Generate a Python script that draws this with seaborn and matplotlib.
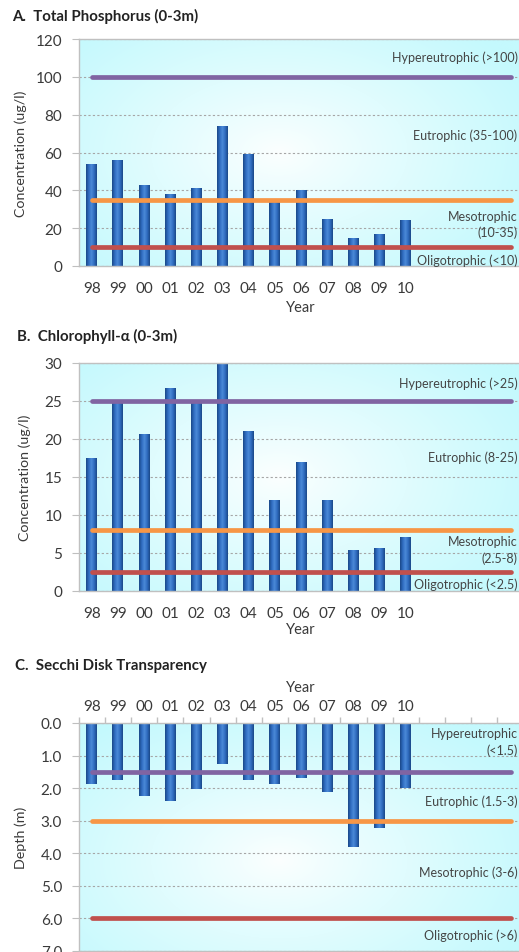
import numpy as np
import pandas as pd
import matplotlib
matplotlib.use("Agg")
import matplotlib.pyplot as plt
import seaborn as sns
from matplotlib.colors import LinearSegmentedColormap

# ---------------- data ----------------
years = ['98', '99', '00', '01', '02', '03', '04', '05', '06', '07', '08', '09', '10']
tp_values = [54, 56, 43, 38, 41, 74, 59, 34, 40, 25, 15, 17, 24.5]
chl_values = [17.5, 24.7, 20.6, 26.7, 24.7, 30.0, 21.0, 12.0, 17.0, 12.0, 5.4, 5.7, 7.1]
secchi_values = [1.86, 1.75, 2.23, 2.40, 2.02, 1.27, 1.75, 1.86, 1.69, 2.13, 3.81, 3.22, 1.99]

tp_thresholds = [100, 35, 10]
chl_thresholds = [25, 8, 2.5]
secchi_thresholds = [1.5, 3.0, 6.0]
threshold_colors = ['#8064a2', '#f79646', '#c0504d']

tp_labels = ['Hypereutrophic (>100)', 'Eutrophic (35-100)', 'Mesotrophic', '(10-35)', 'Oligotrophic (<10)']
chl_labels = ['Hypereutrophic (>25)', 'Eutrophic (8-25)', 'Mesotrophic', '(2.5-8)', 'Oligotrophic (<2.5)']
secchi_labels = ['Hypereutrophic', '(<1.5)', 'Eutrophic (1.5-3)', 'Mesotrophic (3-6)', 'Oligotrophic (>6)']

n_slots = 17  # 13 years + 4 empty category slots on the axis

# ---------------- style ----------------
sns.set_style("white")
plt.rcParams['font.family'] = ['Lato', 'DejaVu Sans']

W, H = 519, 953
fig = plt.figure(figsize=(W / 100, H / 100), dpi=100)

def fig_axes(top_px, bottom_px, left_px=78.7, right_px=523.6):
    return fig.add_axes([left_px / W, 1 - bottom_px / H,
                         (right_px - left_px) / W, (bottom_px - top_px) / H])

axA = fig_axes(40, 267)
axB = fig_axes(363.7, 592)
axC = fig_axes(724, 952)

# background radial gradient
yy, xx = np.mgrid[0:1:200j, 0:1:200j]
bar_cmap = LinearSegmentedColormap.from_list(
    'bar', ['#1a4888', '#2f6cc0', '#4b8ad8', '#2f6cc0', '#1a4888'])
edge = np.array([196, 249, 253]) / 255.0
center_col = np.array([252, 255, 255]) / 255.0

def background(ax, cx, cy):
    r = np.sqrt(((xx - cx) * 1.2) ** 2 + (yy - cy) ** 2)
    t = np.clip(r / 0.75, 0, 1) ** 0.9
    img = center_col[None, None, :] * (1 - t[..., None]) + edge[None, None, :] * t[..., None]
    ax.imshow(img, extent=[0, 1, 0, 1], transform=ax.transAxes, aspect='auto',
              zorder=0, origin='lower', interpolation='bilinear')

TXT = '#3a3a3a'
LABEL_RIGHT_PX = 517.5

def panel(ax, values, ylim, yticks, yfmt, thresholds, labels, label_y,
          ylabel, title, title_xy, ylabel_x, invert=False):
    background(ax, 0.45, 0.5 if not invert else 0.4)
    df = pd.DataFrame({'Year': years, 'Value': values})
    sns.barplot(data=df, x='Year', y='Value', order=years, ax=ax, color='#2f6cc0',
                width=0.42, zorder=2, edgecolor='none', saturation=1)
    grad = np.linspace(0, 1, 50)[None, :]
    for p in list(ax.patches):
        x0, y0 = p.get_x(), p.get_y()
        x1, y1 = x0 + p.get_width(), y0 + p.get_height()
        im = ax.imshow(grad, extent=[x0, x1, min(y0, y1), max(y0, y1)], cmap=bar_cmap,
                       aspect='auto', zorder=2.1, interpolation='bilinear')
        im.set_clip_path(p)
    for v, c in zip(thresholds, threshold_colors):
        ax.plot([0, n_slots - 1], [v, v], color=c, lw=3.4, solid_capstyle='round', zorder=3)

    ax.set_xlim(-0.5, n_slots - 0.5)
    if invert:
        ax.set_ylim(ylim[1], ylim[0])
    else:
        ax.set_ylim(*ylim)

    # right-aligned zone labels ending just inside the figure's right edge
    tr = matplotlib.transforms.blended_transform_factory(fig.transFigure, ax.transData)
    for txt, yv in zip(labels, label_y):
        ax.text(LABEL_RIGHT_PX / W, yv, txt, ha='right', va='center', fontsize=9,
                color='#454545', zorder=4, transform=tr)

    ax.set_yticks(yticks)
    ax.set_yticklabels([yfmt.format(t) for t in yticks])
    ax.set_xticks(range(len(years)))
    ax.set_xticklabels(years)
    ax.set_xticks(np.arange(-0.5, n_slots, 1), minor=True)
    ax.tick_params(axis='x', which='major', length=0, labelsize=11, colors=TXT,
                   pad=7 if invert else 11)
    ax.tick_params(axis='x', which='minor', length=4, color='#bfbfbf', width=1)
    ax.tick_params(axis='y', length=5, color='#bfbfbf', labelsize=11, labelcolor=TXT,
                   pad=7, left=True)
    ax.set_axisbelow(True)
    ax.yaxis.grid(True, color='#a6a6a6', linestyle=(0, (2, 2)), linewidth=0.8)
    ax.xaxis.grid(False)
    for s in ['left', 'top', 'bottom']:
        ax.spines[s].set_visible(True)
        ax.spines[s].set_color('#c0c0c0')
        ax.spines[s].set_linewidth(1)
    ax.spines['right'].set_visible(False)

    ax.set_ylabel(ylabel, fontsize=10.3, color=TXT, va='center')
    ax.yaxis.set_label_coords(ylabel_x, 0.5)
    if invert:
        ax.xaxis.tick_top()
        ax.xaxis.set_label_position('top')
        ax.set_xlabel('Year', fontsize=10.5, color=TXT, va='center')
        ax.xaxis.set_label_coords(0.5, 1 + 36 / 228)
    else:
        ax.set_xlabel('Year', fontsize=10.5, color=TXT, va='center')
    fig.text(title_xy[0] / W, 1 - title_xy[1] / H, title, fontsize=10.8, fontweight='bold',
             color='#222222', ha='left', va='center')

panel(axA, tp_values, (0, 120), [0, 20, 40, 60, 80, 100, 120], '{:.0f}',
      tp_thresholds, tp_labels, [110.4, 69.2, 26.6, 18.0, 3.2],
      'Concentration (ug/l)', 'A.  Total Phosphorus (0-3m)', (12, 16), -0.13)
axA.xaxis.set_label_coords(0.5, -41 / 227)

panel(axB, chl_values, (0, 30), [0, 5, 10, 15, 20, 25, 30], '{:.0f}',
      chl_thresholds, chl_labels, [27.4, 17.6, 6.6, 4.4, 1.0],
      'Concentration (ug/l)', 'B.  Chlorophyll-\u03b1 (0-3m)', (16.7, 336.7), -0.121)
axB.xaxis.set_label_coords(0.5, -38 / 228.3)

panel(axC, secchi_values, (0, 7), [0, 1, 2, 3, 4, 5, 6, 7], '{:.1f}',
      secchi_thresholds, secchi_labels, [0.32, 0.82, 2.38, 4.56, 6.5],
      'Depth (m)', 'C.  Secchi Disk Transparency', (15, 666), -0.13, invert=True)

fig.savefig('out.png', dpi=100)
